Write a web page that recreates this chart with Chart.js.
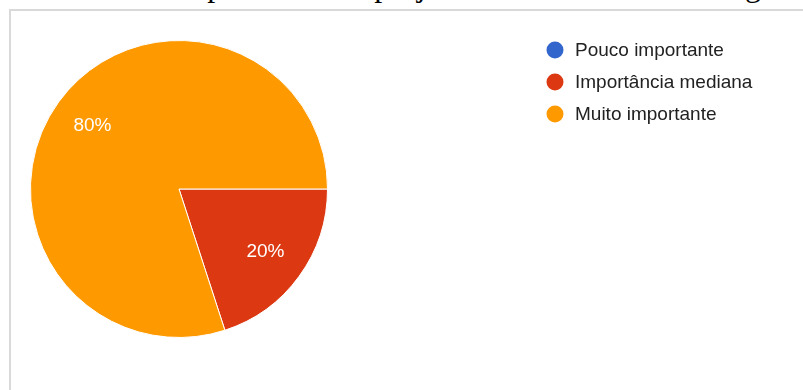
<!DOCTYPE html>
<html lang="pt">
<head>
<meta charset="utf-8">
<title>Importância do projeto</title>
<script src="https://cdn.jsdelivr.net/npm/chart.js@4/dist/chart.umd.min.js"></script>
<style>
  html, body { margin: 0; padding: 0; background: #ffffff; overflow: hidden; }
  body { width: 803px; height: 390px; position: relative; }
  #caption {
    position: absolute; left: 18px; top: -33px; white-space: nowrap;
    font-family: "Liberation Serif", "Times New Roman", serif; font-size: 32px;
    line-height: 36px; color: #000;
  }
  #frame {
    position: absolute; left: 9px; top: 9px; width: 820px; height: 400px;
    border-left: 2px solid #d9d9d9; border-top: 2px solid #d9d9d9;
    background: transparent;
  }
  #wrap { position: absolute; left: 0; top: 0; width: 803px; height: 390px; }
</style>
</head>
<body>
<div id="caption">Gráfico 8 – Importância do projeto PNAE na visão dos agricultores</div>
<div id="frame"></div>
<div id="wrap"><canvas id="chart" width="803" height="390"></canvas></div>
<script>
// Respostas: grau de importância atribuído ao projeto
const categories = ["Pouco importante", "Importância mediana", "Muito importante"];
const values = [0, 20, 80];
const colors = ["#3366cc", "#dc3912", "#ff9900"];

const FONT = '"Liberation Sans", Arial, sans-serif';

// Percent labels inside each slice
const sliceLabels = {
  id: "sliceLabels",
  afterDatasetsDraw(chart) {
    const ctx = chart.ctx;
    const meta = chart.getDatasetMeta(0);
    const data = chart.data.datasets[0].data;
    const total = data.reduce((a, b) => a + b, 0);
    ctx.save();
    ctx.font = "19px " + FONT;
    ctx.fillStyle = "#ffffff";
    ctx.textAlign = "center";
    ctx.textBaseline = "middle";
    meta.data.forEach((arc, i) => {
      if (!data[i]) return;
      const p = arc.getProps(["x", "y", "startAngle", "endAngle", "outerRadius"], true);
      const mid = (p.startAngle + p.endAngle) / 2;
      const r = p.outerRadius * 0.72;
      const pct = Math.round(data[i] / total * 100) + "%";
      ctx.fillText(pct, p.x + Math.cos(mid) * r, p.y + Math.sin(mid) * r);
    });
    ctx.restore();
  }
};

// Legend on the right: coloured dot + label
const sideLegend = {
  id: "sideLegend",
  afterDraw(chart) {
    const ctx = chart.ctx;
    const labels = chart.data.labels;
    const bg = chart.data.datasets[0].backgroundColor;
    ctx.save();
    ctx.font = "19px " + FONT;
    ctx.textBaseline = "middle";
    ctx.textAlign = "left";
    labels.forEach((lab, i) => {
      const y = 50 + i * 32;
      ctx.beginPath();
      ctx.arc(555, y, 8.5, 0, Math.PI * 2);
      ctx.fillStyle = bg[i];
      ctx.fill();
      ctx.fillStyle = "#222222";
      ctx.fillText(lab, 575, y + 1);
    });
    ctx.restore();
  }
};

new Chart(document.getElementById("chart"), {
  type: "pie",
  data: {
    labels: categories,
    datasets: [{
      data: values,
      backgroundColor: colors,
      borderColor: "#ffffff",
      borderWidth: 1,
      hoverOffset: 0,
      offset: 0
    }]
  },
  options: {
    responsive: false,
    animation: false,
    rotation: 90,
    layout: { padding: { left: 30, top: 40, right: 475, bottom: 52 } },
    plugins: {
      legend: { display: false },
      tooltip: { enabled: false }
    }
  },
  plugins: [sliceLabels, sideLegend]
});
</script>
</body>
</html>
